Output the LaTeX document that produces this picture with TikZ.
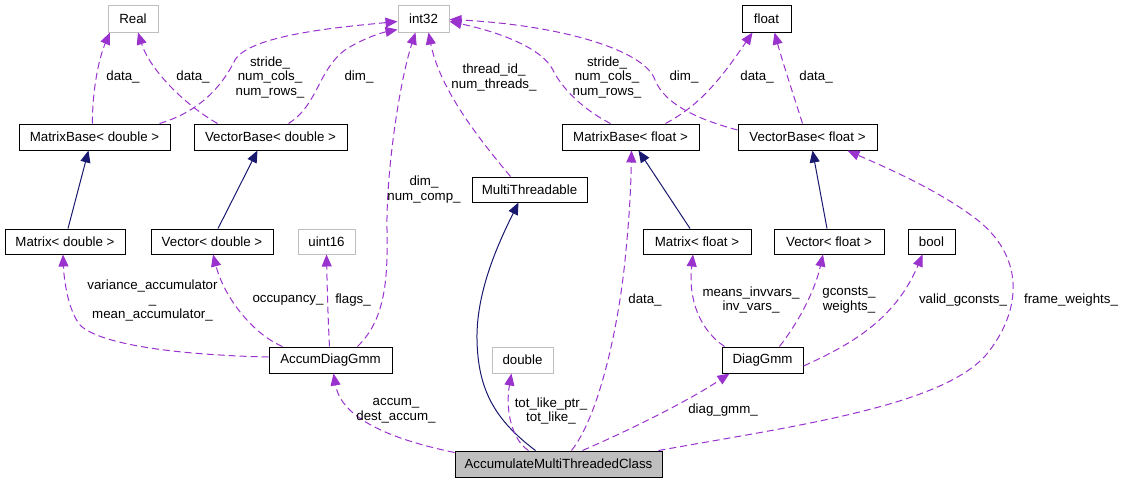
\documentclass[tikz,border=0pt]{standalone}
\usepackage{fontspec}
\setmainfont{Liberation Sans}
\usetikzlibrary{arrows.meta}
\definecolor{usecol}{HTML}{9A32CD}
\definecolor{inhcol}{HTML}{191970}
\definecolor{podgray}{HTML}{BFBFBF}

\begin{document}
\begin{tikzpicture}[x=1pt,y=-1pt,
  every node/.style={font=\fontsize{13.3}{14.5}\selectfont},
  cls/.style={draw=black,line width=1pt,minimum height=26pt,inner sep=0pt},
  pod/.style={cls,draw=podgray},
  usage/.style={draw=usecol,line width=1pt,dash pattern=on 7pt off 4pt,
    -{Triangle[length=12pt,width=10pt]}},
  inherit/.style={draw=inhcol,line width=1pt,
    -{Triangle[length=12pt,width=10pt]}},
  lbl/.style={align=center,inner sep=0pt}]
 \useasboundingbox (0,0) rectangle (1124,483);
 % top row
 \node[pod,minimum width=50pt,minimum height=27pt] (Real) at (133,18.5) {Real};
 \node[pod,minimum width=51pt,minimum height=27pt] (int32) at (423.5,18.5) {int32};
 \node[cls,minimum width=49pt,minimum height=27pt] (float) at (766.5,18.5) {float};
 % bases
 \node[cls,minimum width=151pt] (MBd) at (94.5,137) {MatrixBase< double >};
 \node[cls,minimum width=153pt] (VBd) at (270.5,137) {VectorBase< double >};
 \node[cls,minimum width=137pt] (MBf) at (630.5,137) {MatrixBase< float >};
 \node[cls,minimum width=139pt] (VBf) at (807.5,137) {VectorBase< float >};
 \node[cls,minimum width=115pt,minimum height=25pt] (MT) at (529.5,189.5) {MultiThreadable};
 % middle row
 \node[cls,minimum width=120pt,minimum height=25pt] (Md) at (65,241.5) {Matrix< double >};
 \node[cls,minimum width=122pt,minimum height=25pt] (Vd) at (212,241.5) {Vector< double >};
 \node[pod,minimum width=57pt,minimum height=25pt] (uint16) at (326.5,241.5) {uint16};
 \node[cls,minimum width=108pt,minimum height=25pt] (Mf) at (697,241.5) {Matrix< float >};
 \node[cls,minimum width=110pt,minimum height=25pt] (Vf) at (829,241.5) {Vector< float >};
 \node[cls,minimum width=47pt,minimum height=25pt] (bool) at (931.5,241.5) {bool};
 % lower rows
 \node[cls,minimum width=123pt] (ADG) at (330.5,360) {AccumDiagGmm};
 \node[pod,minimum width=61pt] (double) at (522.5,360) {double};
 \node[cls,minimum width=81pt] (DG) at (762.5,360) {DiagGmm};
 \node[cls,fill=podgray,minimum width=207pt] (AMTC) at (558.5,464) {AccumulateMultiThreadedClass};

 % inheritance
 \draw[inherit] ([xshift=3pt]Md.north) -- ([xshift=-6pt]MBd.south);
 \draw[inherit] ([xshift=6pt]Vd.north) -- ([xshift=-13pt]VBd.south);
 \draw[inherit] ([xshift=-7pt]Mf.north) -- ([xshift=8pt]MBf.south);
 \draw[inherit] ([xshift=-2pt]Vf.north) -- ([xshift=5pt]VBf.south);
 \draw[inherit] ([xshift=-23pt]AMTC.north) .. controls (495,420) and (478,390) .. (477,340)
   .. controls (476,290) and (500,240) .. ([xshift=-11pt]MT.south);

 % members
 \draw[usage] ([xshift=-2pt]MBd.north) .. controls (92,95) and (98,60) .. ([xshift=-23pt]Real.south);
 \draw[usage] ([xshift=-53pt]VBd.north) .. controls (185,105) and (150,70) .. ([xshift=5pt]Real.south);
 \draw[usage] ([xshift=65pt]MBd.north) .. controls (205,110) and (225,80) .. (235,60)
   .. controls (250,35) and (340,27) .. ([yshift=-3pt]int32.west);
 \draw[usage] ([xshift=18pt]VBd.north) .. controls (318,105) and (318,70) .. (345,50)
   .. controls (360,40) and (380,33) .. ([yshift=3pt]int32.south west);
 \draw[usage] ([xshift=27pt]ADG.north) .. controls (385,320) and (388,280) .. (387,230)
   .. controls (386,170) and (400,80) .. ([xshift=-8pt]int32.south);
 \draw[usage] ([xshift=-19pt]MT.north) .. controls (480,140) and (440,90) .. ([xshift=5pt]int32.south);
 \draw[usage] ([xshift=-20pt]MBf.north) .. controls (580,108) and (560,85) .. (553,70)
   .. controls (540,45) and (490,30) .. ([yshift=-3pt]int32.east);
 \draw[usage] ([yshift=7pt]VBf.west) .. controls (700,120) and (665,105) .. (655,80)
   .. controls (645,50) and (560,25) .. ([yshift=-1pt]int32.east);
 \draw[usage] ([xshift=35pt]MBf.north) .. controls (700,105) and (720,80) .. ([xshift=-14pt]float.south);
 \draw[usage] ([xshift=-5pt]VBf.north) .. controls (795,100) and (782,60) .. ([xshift=8pt]float.south);
 \draw[usage] ([yshift=3pt]ADG.west) .. controls (180,355) and (100,345) .. (80,325)
   .. controls (68,310) and (64,280) .. ([xshift=-2pt]Md.south);
 \draw[usage] ([xshift=-48pt]ADG.north) .. controls (255,335) and (225,300) .. ([xshift=1pt]Vd.south);
 \draw[usage] ([xshift=-1pt]ADG.north) .. controls (328,320) and (327,280) .. (uint16.south);
 \draw[usage] ([yshift=-2pt]AMTC.north west) .. controls (370,435) and (340,410) .. ([xshift=3pt]ADG.south);
 \draw[usage] ([xshift=-30pt]AMTC.north) .. controls (512,440) and (505,410) .. ([xshift=-11pt]double.south);
 \draw[usage] ([xshift=13pt]AMTC.north) .. controls (600,415) and (620,320) .. (626,250)
   .. controls (630,210) and (631,180) .. ([xshift=1pt]MBf.south);
 \draw[usage] ([xshift=24pt]AMTC.north) .. controls (630,430) and (690,400) .. ([xshift=-33pt]DG.south);
 \draw[usage] ([xshift=100pt]AMTC.north) .. controls (800,425) and (950,405) .. (990,350)
   .. controls (1020,310) and (1025,260) .. (980,222)
   .. controls (940,190) and (880,165) .. ([xshift=40pt]VBf.south);
 \draw[usage] ([xshift=-38pt]DG.north) .. controls (700,330) and (688,300) .. ([xshift=-4pt]Mf.south);
 \draw[usage] ([xshift=17pt]DG.north) .. controls (800,320) and (815,290) .. ([xshift=-6pt]Vf.south);
 \draw[usage] ([yshift=-6pt]DG.east) .. controls (850,345) and (895,320) .. ([xshift=-9pt]bool.south);

 % member labels
 \node[lbl] (lRealMBd) at (123,77) {data\_};
 \node[lbl] (lRealVBd) at (193,77) {data\_};
 \node[lbl] (lIntMBd) at (270,77) {stride\_\\num\_cols\_\\num\_rows\_};
 \node[lbl] (lIntVBd) at (359,77) {dim\_};
 \node[lbl] (lIntADG) at (424,189.5) {dim\_\\num\_comp\_};
 \node[lbl] (lIntMT) at (494,77.5) {thread\_id\_\\num\_threads\_};
 \node[lbl] (lIntMBf) at (607,77) {stride\_\\num\_cols\_\\num\_rows\_};
 \node[lbl] (lIntVBf) at (684,77) {dim\_};
 \node[lbl] (lFloatMBf) at (757,77) {data\_};
 \node[lbl] (lFloatVBf) at (816,77) {data\_};
 \node[lbl] (lMd) at (152.5,300) {variance\_accumulator\\\_\\mean\_accumulator\_};
 \node[lbl] (lVd) at (288,300) {occupancy\_};
 \node[lbl] (lUint) at (353,300) {flags\_};
 \node[lbl] (lADG) at (396,410.5) {accum\_\\dest\_accum\_};
 \node[lbl] (lDouble) at (551,411) {tot\_like\_ptr\_\\tot\_like\_};
 \node[lbl] (lMBf) at (645,300) {data\_};
 \node[lbl] (lDG) at (723,410) {diag\_gmm\_};
 \node[lbl] (lMf) at (751,300) {means\_invvars\_\\inv\_vars\_};
 \node[lbl] (lVf) at (849,300) {gconsts\_\\weights\_};
 \node[lbl] (lBool) at (963,300) {valid\_gconsts\_};
 \node[lbl] (lVBf) at (1071,300) {frame\_weights\_};
\end{tikzpicture}
\end{document}
